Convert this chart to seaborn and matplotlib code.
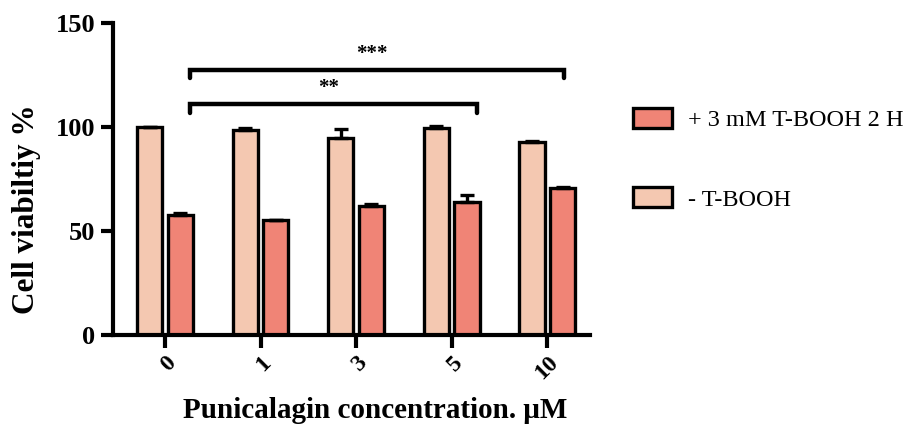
import numpy as np
import pandas as pd
import matplotlib
matplotlib.use("Agg")
import matplotlib.pyplot as plt
import seaborn as sns
from matplotlib.patches import Patch

concentrations = ["0", "1", "3", "5", "10"]
groups = ["- T-BOOH", "+ 3 mM T-BOOH 2 H"]
no_tbooh = [100.0, 98.5, 95.0, 99.5, 93.0]
no_tbooh_err = [0.3, 1.0, 4.0, 1.0, 0.5]
with_tbooh = [57.8, 55.2, 62.2, 64.0, 70.8]
with_tbooh_err = [0.7, 0.3, 1.0, 3.5, 0.4]

light = "#F4C8B1"
dark = "#F08476"

sns.set_theme(style="ticks")
plt.rcParams["font.family"] = ["Liberation Serif", "DejaVu Serif"]
plt.rcParams["text.color"] = "black"
plt.rcParams["axes.labelcolor"] = "black"
plt.rcParams["xtick.color"] = "black"
plt.rcParams["ytick.color"] = "black"
plt.rcParams["axes.edgecolor"] = "black"

records = []
for i, c in enumerate(concentrations):
    records.append({"Conc": c, "Group": groups[0], "Viability": no_tbooh[i], "Err": no_tbooh_err[i]})
    records.append({"Conc": c, "Group": groups[1], "Viability": with_tbooh[i], "Err": with_tbooh_err[i]})
df = pd.DataFrame(records)

fig = plt.figure(figsize=(9.18, 4.29), dpi=100)
ax = fig.add_axes([0.123, 0.219, 0.52, 0.727])

sns.barplot(data=df, x="Conc", y="Viability", hue="Group", order=concentrations,
            hue_order=groups, palette=[light, dark], saturation=1, width=0.64, gap=0.18,
            edgecolor="black", linewidth=2.4, errorbar=None, legend=False, ax=ax)

# error bars (upper only), drawn from bar centers
centers = {}
for container, vals, errs, g in zip(ax.containers, [no_tbooh, with_tbooh],
                                    [no_tbooh_err, with_tbooh_err], groups):
    xs = [p.get_x() + p.get_width() / 2 for p in container.patches]
    centers[g] = xs
    ax.errorbar(xs, vals, yerr=[np.zeros(len(errs)), errs], fmt="none",
                ecolor="black", elinewidth=2.4, capsize=5, capthick=2.4, zorder=1)

ax.set_ylim(0, 150)
ax.set_xlim(-0.545, 4.45)
ax.set_yticks([0, 50, 100, 150])
for s in ["top", "right"]:
    ax.spines[s].set_visible(False)
for s in ["left", "bottom"]:
    ax.spines[s].set_linewidth(3)
ax.tick_params(axis="both", width=3, length=9, direction="out", labelsize=19)
for lab in ax.get_yticklabels():
    lab.set_fontweight("bold")
ax.set_xticks(range(len(concentrations)))
ax.set_xticklabels(concentrations, rotation=45, ha="right", rotation_mode="anchor",
                   fontweight="bold", fontsize=17)

ax.set_ylabel("Cell viabiltiy %", fontsize=22.5, fontweight="bold")
ax.yaxis.set_label_coords(-0.15, 0.405)
ax.set_xlabel("Punicalagin concentration. \u03bcM", fontsize=21, fontweight="bold")
ax.xaxis.set_label_coords(0.55, -0.2)

# significance brackets
x0 = centers[groups[1]][0] + 0.1
for xe_idx, off, y, label in [(3, 0.1, 111, "**"), (4, 0.01, 127.5, "***")]:
    xe = centers[groups[1]][xe_idx] + off
    ax.plot([x0, x0, xe, xe], [y - 4, y, y, y - 4], color="black", lw=3.2,
            solid_joinstyle="miter", clip_on=False)
    ax.text((x0 + xe) / 2 - 0.05, y + 3, label, ha="center", va="bottom",
            fontsize=15, fontweight="bold")

handles = [Patch(facecolor=dark, edgecolor="black", linewidth=2.4, label=groups[1]),
           Patch(facecolor=light, edgecolor="black", linewidth=2.4, label=groups[0])]
fig.legend(handles=handles, loc="upper left", bbox_to_anchor=(0.666, 0.80),
           frameon=False, fontsize=17.5, handlelength=1.6, handleheight=0.9,
           labelspacing=2.3, handletextpad=0.65)

fig.savefig("out.png", dpi=100)
